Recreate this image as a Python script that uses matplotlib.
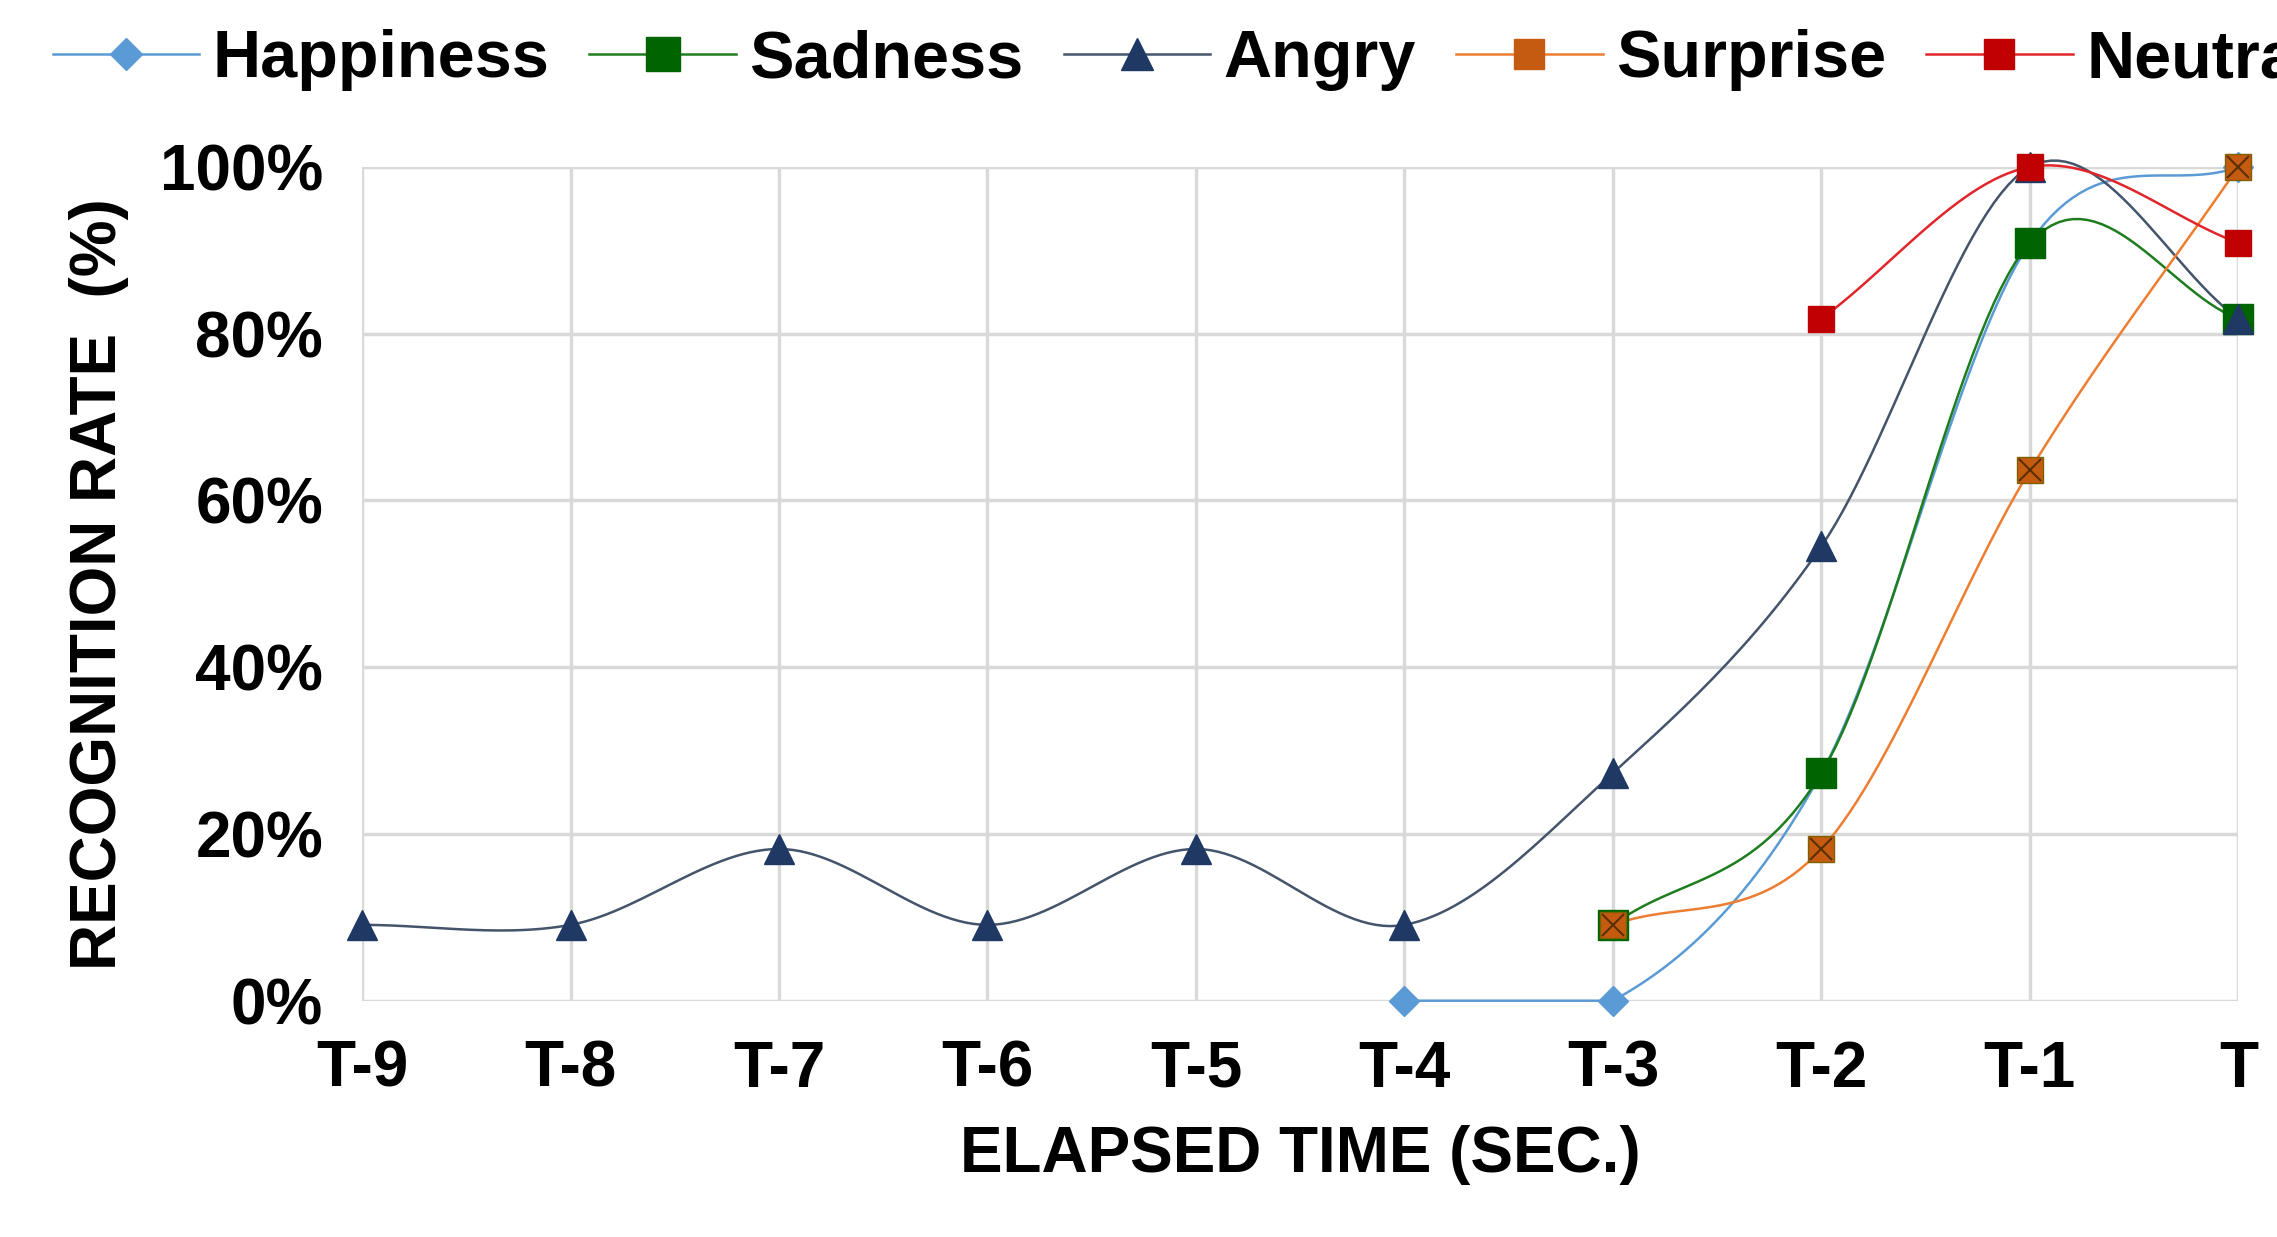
import matplotlib.pyplot as plt
import numpy as np

plt.rcParams['font.family'] = ['Liberation Sans', 'DejaVu Sans']
plt.rcParams['font.weight'] = 'bold'
plt.rcParams['axes.labelweight'] = 'bold'

labels = ['T-9', 'T-8', 'T-7', 'T-6', 'T-5', 'T-4', 'T-3', 'T-2', 'T-1', 'T']
happiness = [None, None, None, None, None, 0.0, 0.0, 27.3, 90.9, 100.0]
sadness = [None, None, None, None, None, None, 9.1, 27.3, 90.9, 81.8]
angry = [9.1, 9.1, 18.2, 9.1, 18.2, 9.1, 27.3, 54.5, 100.0, 81.8]
surprise = [None, None, None, None, None, None, 9.1, 18.2, 63.6, 100.0]
neutral = [None, None, None, None, None, None, None, 81.8, 100.0, 90.9]


def smooth(x, y, n=30):
    # catmull-rom style curve through the points (like Excel smoothed lines)
    x = np.asarray(x, float)
    y = np.asarray(y, float)
    px = np.concatenate([[2 * x[0] - x[1]], x, [2 * x[-1] - x[-2]]])
    py = np.concatenate([[2 * y[0] - y[1]], y, [2 * y[-1] - y[-2]]])
    xs, ys = [], []
    t = np.linspace(0, 1, n)
    for i in range(1, len(px) - 2):
        for p, out in ((px, xs), (py, ys)):
            p0, p1, p2, p3 = p[i - 1], p[i], p[i + 1], p[i + 2]
            out.extend(0.5 * (2 * p1 + (-p0 + p2) * t + (2 * p0 - 5 * p1 + 4 * p2 - p3) * t ** 2
                              + (-p0 + 3 * p1 - 3 * p2 + p3) * t ** 3))
    return xs, np.clip(ys, 0, None)


series = [
    ('Happiness', happiness, '#5b9bd5', 'D', '#5b9bd5', 15),
    ('Sadness', sadness, '#1e7d1e', 's', '#006400', 22),
    ('Angry', angry, '#44546a', '^', '#1f3864', 21),
    ('Surprise', surprise, '#ed7d31', 's', '#c55a11', 19),
    ('Neutral', neutral, '#e0262b', 's', '#c00000', 19),
]

fig = plt.figure(figsize=(22.77, 12.37), dpi=100)
ax = fig.add_axes([0.159, 0.191, 0.824, 0.674])

for name, vals, lc, mk, mc, ms in series:
    x = [i for i, v in enumerate(vals) if v is not None]
    y = [vals[i] / 100 for i in x]
    sx, sy = smooth(x, y)
    ax.plot(sx, sy, color=lc, lw=1.8, clip_on=False, zorder=3)
    ax.plot(x, y, linestyle='none', marker=mk, ms=ms, color=mc,
            markeredgecolor='#7f6000' if name == 'Surprise' else mc, clip_on=False, zorder=4)
    if name == 'Surprise':
        ax.plot(x, y, linestyle='none', marker='x', ms=ms * 0.8, color='#5a3000',
                mew=1.5, clip_on=False, zorder=5)
    ax.plot([], [], color=lc, lw=1.8, marker=mk, ms=ms * 1.1, markerfacecolor=mc,
            markeredgecolor=mc, label=name)

ax.set_xlim(0, 9)
ax.set_ylim(0, 1)
ax.set_xticks(range(10))
ax.set_xticklabels(labels)
ax.set_yticks(np.arange(0, 1.01, 0.2))
ax.set_yticklabels([f'{int(v * 100)}%' for v in np.arange(0, 1.01, 0.2)])
ax.grid(color='#d9d9d9', lw=2.5)
ax.set_axisbelow(True)
for s in ax.spines.values():
    s.set_visible(False)
ax.tick_params(length=0, labelsize=46, pad=28)
ax.set_xlabel('ELAPSED TIME (SEC.)', fontsize=46, labelpad=18)
ax.set_ylabel('RECOGNITION RATE  (%)', fontsize=46, labelpad=22)
fig.legend(loc='upper center', bbox_to_anchor=(0.52, 1.025), ncol=5, frameon=False,
           fontsize=48, handlelength=2.2, handletextpad=0.2, columnspacing=0.6)
fig.savefig('out.png')
